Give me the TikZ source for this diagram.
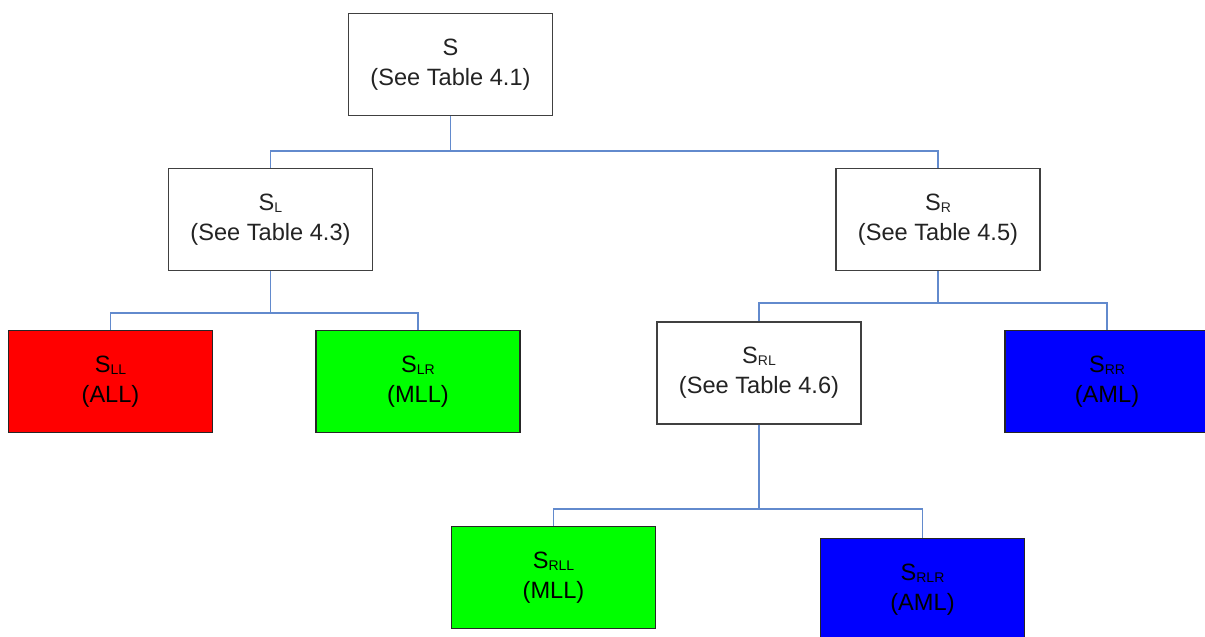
\documentclass[tikz,border=0pt]{standalone}
\usepackage{fontspec}
\setmainfont{Liberation Sans}
\definecolor{conn}{RGB}{98,138,205}
\definecolor{edge}{RGB}{64,64,64}
\definecolor{txt}{RGB}{35,35,35}
\definecolor{cred}{RGB}{255,0,0}
\definecolor{cgreen}{RGB}{0,255,0}
\definecolor{cblue}{RGB}{0,0,255}
\newcommand{\mysub}[1]{\raisebox{-2pt}{\fontsize{14}{14}\selectfont #1}}
\begin{document}
\begin{tikzpicture}[x=1pt,y=-1pt,
  box/.style={draw=edge, line width=1.4pt, minimum width=204pt, minimum height=102pt,
    inner sep=0pt, align=center, text=txt, font=\fontsize{23.6}{30}\selectfont},
  leafbox/.style={box, draw=black!85, text=black},
  conline/.style={draw=conn, line width=1.3pt}]
\useasboundingbox (0,0) rectangle (1205,637);
\fill[white] (0,0) rectangle (1205,637);
\node[box, fill=white] (root) at (450.5,64.5) {S\\(See Table 4.1)};
\node[box, fill=white] (SL) at (270.5,219.5) {S\mysub{L}\\(See Table 4.3)};
\node[box, fill=white] (SR) at (938,219.5) {S\mysub{R}\\(See Table 4.5)};
\node[leafbox, fill=cred] (SLL) at (110.5,381.5) {S\mysub{LL}\\(ALL)};
\node[leafbox, fill=cgreen] (SLR) at (418,381.5) {S\mysub{LR}\\(MLL)};
\node[box, fill=white] (SRL) at (759,373) {S\mysub{RL}\\(See Table 4.6)};
\node[leafbox, fill=cblue] (SRR) at (1107,381.5) {S\mysub{RR}\\(AML)};
\node[leafbox, fill=cgreen] (SRLL) at (553.5,577.5) {S\mysub{RLL}\\(MLL)};
\node[leafbox, fill=cblue] (SRLR) at (922.5,589.5) {S\mysub{RLR}\\(AML)};
\coordinate (j0) at (450.5,151);
\coordinate (j1) at (270.5,313);
\coordinate (j2) at (938,303);
\coordinate (j3) at (759,509);
\draw[conline] (root.south) -- (j0) -| (SL.north);
\draw[conline] (j0) -| (SR.north);
\draw[conline] (SL.south) -- (j1) -| (SLL.north);
\draw[conline] (j1) -| (SLR.north);
\draw[conline] (SR.south) -- (j2) -| (SRL.north);
\draw[conline] (j2) -| (SRR.north);
\draw[conline] (SRL.south) -- (j3) -| (SRLL.north);
\draw[conline] (j3) -| (SRLR.north);
\end{tikzpicture}
\end{document}
